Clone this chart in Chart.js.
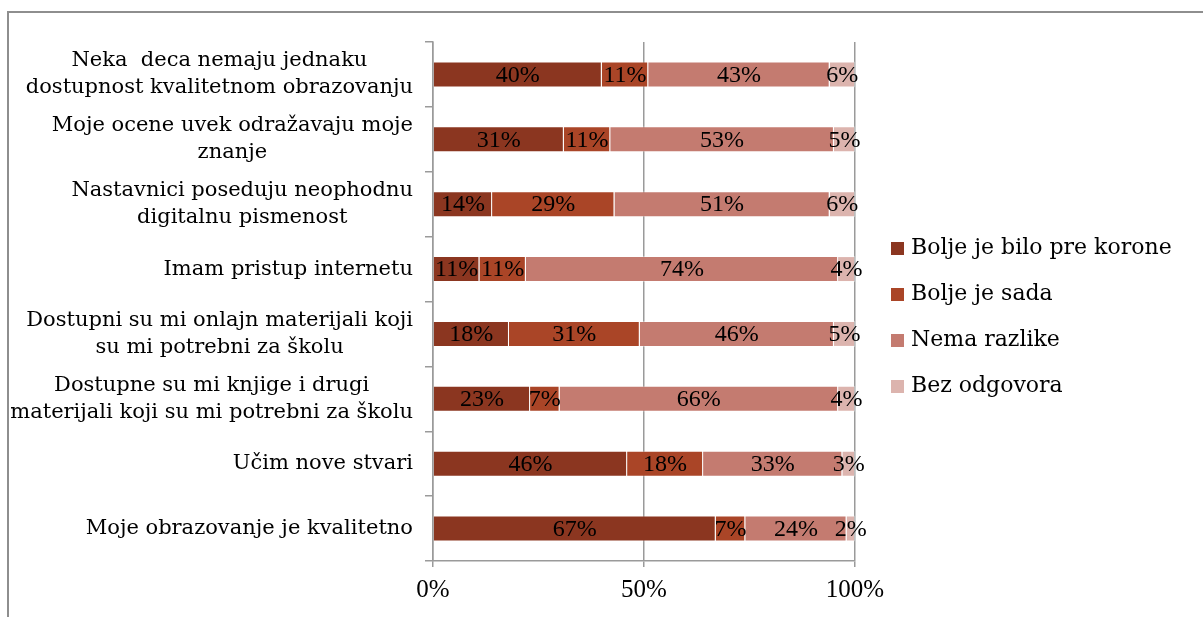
<!DOCTYPE html>
<html>
<head>
<meta charset="utf-8">
<script src="https://cdn.jsdelivr.net/npm/chart.js@4/dist/chart.umd.min.js"></script>
<style>
  html, body { margin: 0; padding: 0; background: #fff; overflow: hidden; }
  #frame { position: absolute; left: 7px; top: 11px; width: 1300px; height: 700px;
           border-top: 2px solid #8e8e8e; border-left: 2px solid #8e8e8e; }
  #wrap { position: absolute; left: 0; top: 0; width: 1203px; height: 617px; }
</style>
</head>
<body>
<div id="frame"></div>
<div id="wrap"><canvas id="chart"></canvas></div>
<script>
const categories = [
  ['Neka  deca nemaju jednaku', 'dostupnost kvalitetnom obrazovanju'],
  ['Moje ocene uvek odražavaju moje', 'znanje'],
  ['Nastavnici poseduju neophodnu', 'digitalnu pismenost'],
  ['Imam pristup internetu'],
  ['Dostupni su mi onlajn materijali koji', 'su mi potrebni za školu'],
  ['Dostupne su mi knjige i drugi', 'materijali koji su mi potrebni za školu'],
  ['Učim nove stvari'],
  ['Moje obrazovanje je kvalitetno']
];
const seriesNames = ['Bolje je bilo pre korone', 'Bolje je sada', 'Nema razlike', 'Bez odgovora'];
const boljePre = [40, 31, 14, 11, 18, 23, 46, 67];
const boljeSada = [11, 11, 29, 11, 31, 7, 18, 7];
const nemaRazlike = [43, 53, 51, 74, 46, 66, 33, 24];
const bezOdgovora = [6, 5, 6, 4, 5, 4, 3, 2];
const xTicks = [0, 50, 100];

const colors = ['#8b3620', '#aa4527', '#c47b70', '#dcb4ae'];
const serifUI = '"DejaVu Serif", Georgia, serif';
const serifNum = '"Liberation Serif", "Times New Roman", serif';

// value labels in the middle of each segment
const valueLabels = {
  id: 'valueLabels',
  afterDatasetsDraw(chart) {
    const ctx = chart.ctx;
    ctx.save();
    ctx.font = '24px ' + serifNum;
    ctx.fillStyle = '#000';
    ctx.textAlign = 'center';
    ctx.textBaseline = 'middle';
    chart.data.datasets.forEach((ds, i) => {
      chart.getDatasetMeta(i).data.forEach((bar, j) => {
        const p = bar.getProps(['x', 'y', 'base']);
        ctx.fillText(ds.data[j] + '%', (p.x + p.base) / 2, p.y + 1);
      });
    });
    ctx.restore();
  }
};

// category labels: block right aligned, lines centred inside the block
const catLabels = {
  id: 'catLabels',
  afterDraw(chart) {
    const ctx = chart.ctx;
    const y = chart.scales.y;
    const right = chart.chartArea.left - 20;
    const lh = 27;
    ctx.save();
    ctx.font = '21px ' + serifUI;
    ctx.fillStyle = '#000';
    ctx.textAlign = 'center';
    ctx.textBaseline = 'middle';
    categories.forEach((lines, i) => {
      const w = Math.max(...lines.map(l => ctx.measureText(l).width));
      const cx = right - w / 2;
      const cy = y.getPixelForValue(i);
      lines.forEach((l, k) => {
        ctx.fillText(l, cx, cy + (k - (lines.length - 1) / 2) * lh);
      });
    });
    ctx.restore();
  }
};

// legend on the right, drawn from the datasets
const sideLegend = {
  id: 'sideLegend',
  afterDraw(chart) {
    const ctx = chart.ctx;
    const a = chart.chartArea;
    const step = 46;
    const n = chart.data.datasets.length;
    const top = (a.top + a.bottom) / 2 + 16 - step * (n - 1) / 2;
    const x = a.right + 36;
    ctx.save();
    ctx.font = '22px ' + serifUI;
    ctx.textBaseline = 'middle';
    ctx.textAlign = 'left';
    chart.data.datasets.forEach((ds, i) => {
      const cy = top + i * step;
      ctx.fillStyle = ds.backgroundColor;
      ctx.fillRect(x, cy - 6.5, 13, 13);
      ctx.fillStyle = '#000';
      ctx.fillText(ds.label, x + 20, cy);
    });
    ctx.restore();
  }
};

new Chart(document.getElementById('chart'), {
  type: 'bar',
  data: {
    labels: categories.map(c => c.join(' ')),
    datasets: [boljePre, boljeSada, nemaRazlike, bezOdgovora].map((d, i) => ({
      label: seriesNames[i],
      data: d,
      backgroundColor: colors[i],
      borderColor: 'rgba(255,255,255,0.35)',
      borderWidth: 1,
      barPercentage: 0.4,
      categoryPercentage: 1
    }))
  },
  options: {
    indexAxis: 'y',
    responsive: true,
    maintainAspectRatio: false,
    animation: false,
    layout: { padding: { top: 42, bottom: 20, left: 8, right: 348 } },
    plugins: {
      tooltip: { enabled: false },
      legend: { display: false }
    },
    scales: {
      x: {
        stacked: true,
        min: 0,
        max: 100,
        afterBuildTicks: s => { s.ticks = xTicks.map(v => ({ value: v })); },
        afterFit: s => { s.height = 36; },
        ticks: {
          padding: 8,
          color: '#000',
          font: { family: serifNum, size: 25 },
          callback: v => v + '%'
        },
        grid: { color: '#9a9a9a', lineWidth: 1.5, tickLength: 6 },
        border: { color: '#9a9a9a', width: 1.5 }
      },
      y: {
        stacked: true,
        afterFit: s => { s.width = 425; },
        ticks: { display: false },
        grid: { drawOnChartArea: false, offset: true, color: '#9a9a9a', lineWidth: 1.5, tickLength: 8 },
        border: { color: '#9a9a9a', width: 1.5 }
      }
    }
  },
  plugins: [valueLabels, catLabels, sideLegend]
});
</script>
</body>
</html>
